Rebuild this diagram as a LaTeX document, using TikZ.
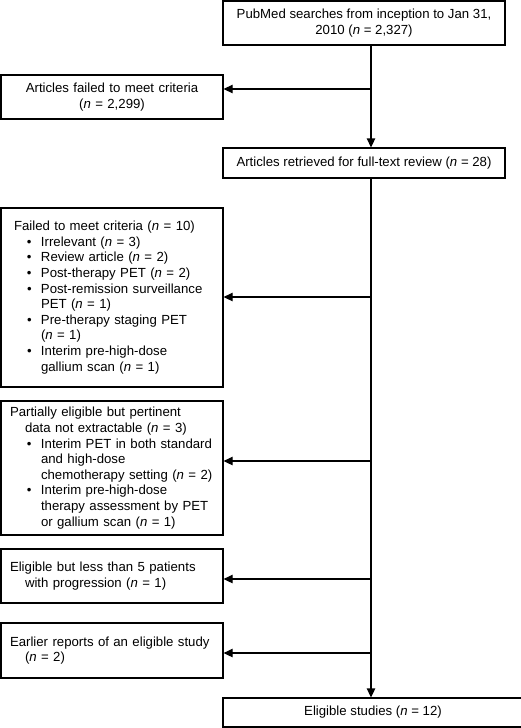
\documentclass[tikz,border=0pt]{standalone}
\usepackage{fontspec}
\setmainfont{Liberation Sans}
\usetikzlibrary{arrows.meta, positioning}

\newcommand{\nn}{\textit{n}}
\newcommand{\bitem}{\hspace*{17pt}\makebox[14pt][l]{\textbullet}}
\newcommand{\bcont}{\hspace*{31pt}}
\newcommand{\hcont}{\hspace*{15pt}}

\begin{document}
\begin{tikzpicture}[
    x=1pt, y=-1pt,
    every node/.style={font=\fontsize{13.2}{15.6}\selectfont},
    flowbox/.style={draw, rectangle, line width=1.3pt, fill=white, align=center, inner sep=0pt},
    sidebox/.style={draw, rectangle, line width=1.3pt, fill=white, align=left, text width=204pt, inner xsep=9pt, inner ysep=0pt},
    arrow/.style={-{Triangle[length=9pt, width=8.5pt]}, line width=1.3pt}
]
    \useasboundingbox (0,0) rectangle (520,728);

    % Main flow
    \node[flowbox, minimum width=282pt, minimum height=44pt] (search) at (364, 23) {PubMed searches from inception to Jan 31,\\2010 (\nn{} = 2,327)};
    \node[flowbox, minimum width=282pt, minimum height=30pt] (retrieved) at (364, 163) {Articles retrieved for full-text review (\nn{} = 28)};
    \node[flowbox, minimum width=300pt, minimum height=29pt] (studies) at (373, 712.5) {Eligible studies (\nn{} = 12)};

    % Excluded boxes
    \node[sidebox, align=center, minimum height=44pt] (excluded) at (112, 97) {Articles failed to meet criteria\\(\nn{} = 2,299)};
    \node[sidebox, minimum height=179pt] (failed) at (112, 297.5) {\hspace*{4pt}Failed to meet criteria (\nn{} = 10)\\
        \bitem Irrelevant (\nn{} = 3)\\
        \bitem Review article (\nn{} = 2)\\
        \bitem Post-therapy PET (\nn{} = 2)\\
        \bitem Post-remission surveillance\\
        \bcont PET (\nn{} = 1)\\
        \bitem Pre-therapy staging PET\\
        \bcont (\nn{} = 1)\\
        \bitem Interim pre-high-dose\\
        \bcont gallium scan (\nn{} = 1)};
    \node[sidebox, minimum height=134pt] (partial) at (112, 468) {Partially eligible but pertinent\\
        \hcont data not extractable (\nn{} = 3)\\
        \bitem Interim PET in both standard\\
        \bcont and high-dose\\
        \bcont chemotherapy setting (\nn{} = 2)\\
        \bitem Interim pre-high-dose\\
        \bcont therapy assessment by PET\\
        \bcont or gallium scan (\nn{} = 1)};
    \node[sidebox, minimum height=54pt] (fewprog) at (112, 576) {Eligible but less than 5 patients\\
        \hcont with progression (\nn{} = 1)};
    \node[sidebox, minimum height=55pt] (earlier) at (112, 650.5) {Earlier reports of an eligible study\\
        \hcont (\nn{} = 2)};

    % Trunk and branch points
    \coordinate (trunk) at (371, 0);
    \coordinate (excl_in) at ([yshift=8pt]excluded.east);
    \coordinate (fail_in) at ([yshift=0.5pt]failed.east);
    \coordinate (part_in) at ([yshift=7pt]partial.east);
    \coordinate (prog_in) at ([yshift=-3pt]fewprog.east);
    \coordinate (earl_in) at ([yshift=-2.5pt]earlier.east);

    % Arrows down the trunk
    \draw [arrow] (search.south -| trunk) -- (retrieved.north -| trunk);
    \draw [arrow] (retrieved.south -| trunk) -- (studies.north -| trunk);

    % Arrows out to the excluded boxes
    \draw [arrow] (trunk |- excl_in) -- (excl_in);
    \draw [arrow] (trunk |- fail_in) -- (fail_in);
    \draw [arrow] (trunk |- part_in) -- (part_in);
    \draw [arrow] (trunk |- prog_in) -- (prog_in);
    \draw [arrow] (trunk |- earl_in) -- (earl_in);

\end{tikzpicture}
\end{document}
